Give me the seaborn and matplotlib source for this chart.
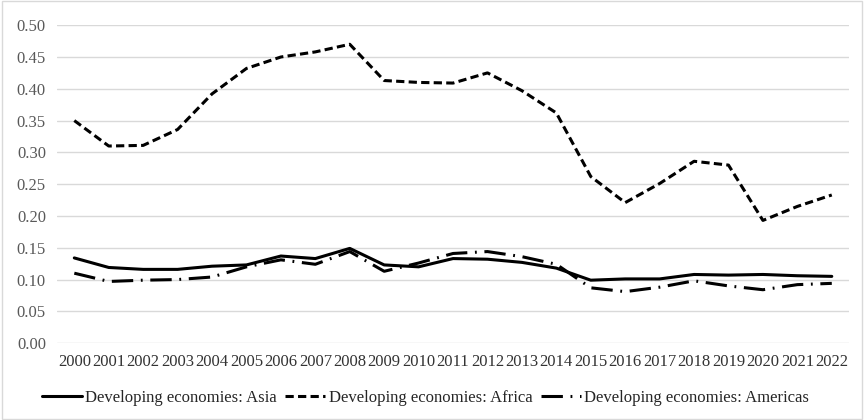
import pandas as pd
import matplotlib.pyplot as plt
import seaborn as sns

years = list(range(2000, 2023))
asia = [0.134, 0.119, 0.116, 0.116, 0.121, 0.123, 0.137, 0.133, 0.149, 0.123, 0.120, 0.133,
        0.132, 0.127, 0.118, 0.099, 0.101, 0.101, 0.108, 0.107, 0.108, 0.106, 0.105]
africa = [0.350, 0.310, 0.311, 0.336, 0.392, 0.432, 0.450, 0.458, 0.470, 0.413, 0.410, 0.409,
          0.425, 0.397, 0.362, 0.262, 0.221, 0.251, 0.286, 0.280, 0.193, 0.215, 0.233]
americas = [0.110, 0.097, 0.099, 0.100, 0.104, 0.120, 0.131, 0.124, 0.144, 0.113, 0.126, 0.141,
            0.144, 0.136, 0.124, 0.087, 0.081, 0.088, 0.098, 0.090, 0.084, 0.092, 0.094]
names = ['Developing economies: Asia', 'Developing economies: Africa',
         'Developing economies: Americas']

# long format for seaborn
df = pd.concat([
    pd.DataFrame({'year': years, 'value': vals, 'series': name})
    for name, vals in zip(names, [asia, africa, americas])
])

sns.set_style('white')
plt.rcParams['font.family'] = ['Liberation Serif', 'DejaVu Serif']

fig = plt.figure(figsize=(8.65, 4.2), dpi=100)
ax = fig.add_axes([0.066, 0.183, 0.9155, 0.757])

dashes = {names[0]: '', names[1]: (2.7, 1.4), names[2]: (7, 2.5, 0.6, 2.5)}
sns.lineplot(data=df, x='year', y='value', style='series', dashes=dashes,
             color='black', linewidth=2.2, ax=ax)

ax.set_xlim(1999.5, 2022.5)
ax.set_ylim(0, 0.5)
ax.set_xticks(years)
ax.set_xticklabels([str(y) for y in years], fontsize=12, color='#333333')
ax.set_yticks([i * 0.05 for i in range(11)])
ax.set_yticklabels([f'{i * 0.05:.2f}' for i in range(11)], fontsize=12, color='#595959')
ax.tick_params(length=0, pad=8)
ax.set_xlabel('')
ax.set_ylabel('')
ax.grid(axis='y', color='#d9d9d9', linewidth=1)
for s in ax.spines.values():
    s.set_visible(False)

ax.legend(loc='upper center', bbox_to_anchor=(0.465, -0.10), ncol=3, frameon=False,
          fontsize=12, handlelength=2.4, handletextpad=0.2, columnspacing=0.5)

# light border around the whole chart
fig.patches.append(plt.Rectangle((0.002, 0.003), 0.995, 0.994, transform=fig.transFigure,
                                 fill=False, edgecolor='#d9d9d9', linewidth=1))

fig.savefig('out.png', dpi=100)
